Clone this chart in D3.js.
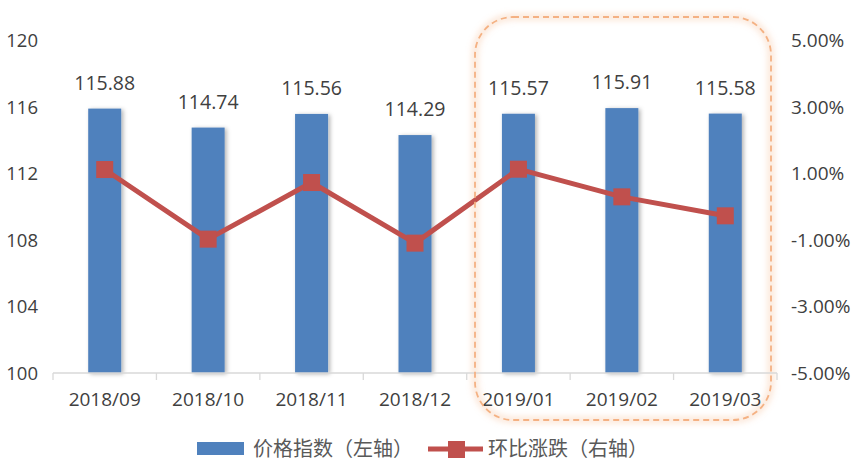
<!DOCTYPE html>
<html><head><meta charset="utf-8">
<script src="https://cdn.jsdelivr.net/npm/d3@7"></script>
<style>body{margin:0;background:#fff;}svg{display:block;font-family:"Open Sans","Noto Sans CJK SC",sans-serif;}</style>
</head><body><svg id="c" width="863" height="472"></svg>
<script>
const categories = ["2018/09","2018/10","2018/11","2018/12","2019/01","2019/02","2019/03"];
const priceIndex = [115.88,114.74,115.56,114.29,115.57,115.91,115.58];
const momChange = [1.11,-0.98,0.72,-1.10,1.12,0.29,-0.28];
const leftTicks = [100,104,108,112,116,120];
const rightTicks = [-5,-3,-1,1,3,5];
const legendLabels = ["价格指数（左轴）","环比涨跌（右轴）"];

const svg = d3.select("#c");
const m = {l:53, r:86, t:40, b:99};
const W = 863, H = 472;
const xc = d3.scaleBand().domain(categories).range([m.l, W - m.r]);
const yL = d3.scaleLinear().domain([100,120]).range([H - m.b, m.t]);
const yR = d3.scaleLinear().domain([-5,5]).range([H - m.b, m.t]);
const cx = d => xc(d) + xc.bandwidth()/2;

const defs = svg.append("defs");
const f = defs.append("filter").attr("id","sh").attr("x","-30%").attr("y","-10%").attr("width","160%").attr("height","120%");
f.append("feDropShadow").attr("dx",2).attr("dy",1).attr("stdDeviation",2).attr("flood-color","#000").attr("flood-opacity",0.3);
const g2 = defs.append("filter").attr("id","glow").attr("x","-10%").attr("y","-10%").attr("width","120%").attr("height","120%");
g2.append("feGaussianBlur").attr("stdDeviation",3);

// highlight rounded rect
const hx0 = 475, hx1 = 771, hy0 = 17, hy1 = 420;
svg.append("rect").attr("x",hx0).attr("y",hy0).attr("width",hx1-hx0).attr("height",hy1-hy0).attr("rx",38)
  .attr("fill","none").attr("stroke","#f4b183").attr("stroke-opacity",0.35).attr("stroke-width",6).attr("filter","url(#glow)");

// bars
svg.append("g").selectAll("rect").data(priceIndex).join("rect")
  .attr("x",(d,i)=>cx(categories[i]) - 16.5)
  .attr("width",33)
  .attr("y",d=>yL(d)).attr("height",d=>yL(100)-yL(d))
  .attr("fill","#4f81bd").attr("filter","url(#sh)");

// x axis
const xAxis = svg.append("g").attr("transform",`translate(0,${yL(100)})`);
xAxis.append("line").attr("x1",m.l).attr("x2",W-m.r).attr("stroke","#d9d9d9").attr("stroke-width",1.3);
xAxis.selectAll("line.t").data(d3.range(categories.length+1)).join("line").attr("class","t")
  .attr("x1",i=>m.l + i*xc.step()).attr("x2",i=>m.l + i*xc.step()).attr("y1",0).attr("y2",7)
  .attr("stroke","#d9d9d9").attr("stroke-width",1.3);
xAxis.selectAll("text").data(categories).join("text")
  .attr("x",d=>cx(d)).attr("y",33).attr("text-anchor","middle")
  .attr("font-size",19).attr("fill","#404040").text(d=>d);

// left axis labels
svg.append("g").selectAll("text").data(leftTicks).join("text")
  .attr("x",38).attr("y",d=>yL(d)+7).attr("text-anchor","end")
  .attr("font-size",18.5).attr("fill","#404040").text(d=>d);
// right axis labels
svg.append("g").selectAll("text").data(rightTicks).join("text")
  .attr("x",791).attr("y",d=>yR(d)+7).attr("text-anchor","start")
  .attr("font-size",19).attr("fill","#404040").text(d=>d.toFixed(2)+"%");

// value labels
svg.append("g").selectAll("text").data(priceIndex).join("text")
  .attr("x",(d,i)=>cx(categories[i])).attr("y",d=>yL(d)-19)
  .attr("text-anchor","middle").attr("font-size",19.5).attr("fill","#404040").text(d=>d.toFixed(2));

// line
const line = d3.line().x((d,i)=>cx(categories[i])).y(d=>yR(d));
svg.append("path").datum(momChange).attr("d",line).attr("fill","none").attr("stroke","#c0504d").attr("stroke-width",5).attr("stroke-linejoin","round");
svg.append("g").selectAll("rect").data(momChange).join("rect")
  .attr("x",(d,i)=>cx(categories[i])-8.5).attr("y",d=>yR(d)-8.5)
  .attr("width",17).attr("height",17).attr("fill","#c0504d");

// dashed rounded highlight
svg.append("rect").attr("x",hx0).attr("y",hy0).attr("width",hx1-hx0).attr("height",hy1-hy0).attr("rx",38)
  .attr("fill","none").attr("stroke","#f4b183").attr("stroke-width",1.8).attr("stroke-dasharray","6,4");

// legend
const lg = svg.append("g");
lg.append("rect").attr("x",197).attr("y",442).attr("width",47).attr("height",13).attr("fill","#4f81bd");
lg.append("text").attr("x",253).attr("y",456).attr("font-size",20).attr("fill","#595959").text(legendLabels[0]);
lg.append("line").attr("x1",428).attr("x2",483).attr("y1",449).attr("y2",449).attr("stroke","#c0504d").attr("stroke-width",5);
lg.append("rect").attr("x",448).attr("y",441).attr("width",17).attr("height",17).attr("fill","#c0504d");
lg.append("text").attr("x",488).attr("y",456).attr("font-size",20).attr("fill","#595959").text(legendLabels[1]);
</script></body></html>
